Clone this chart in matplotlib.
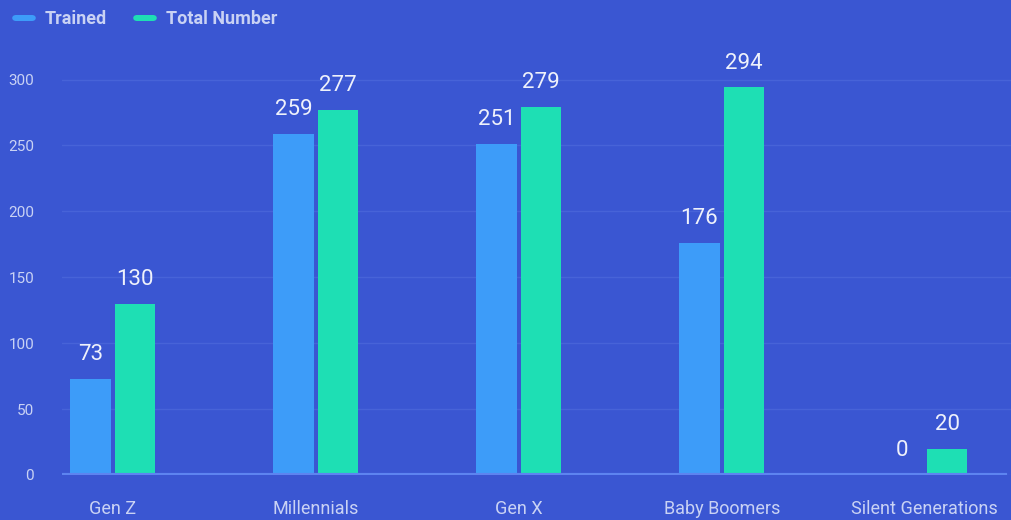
import matplotlib.pyplot as plt
import matplotlib as mpl
from matplotlib.patches import FancyBboxPatch
import numpy as np

mpl.rcParams['font.family'] = ['Roboto', 'DejaVu Sans']

# generations and counts
generations = ["Gen Z", "Millennials", "Gen X", "Baby Boomers", "Silent Generations"]
trained = [73, 259, 251, 176, 0]
total_number = [130, 277, 279, 294, 20]

bg = "#3a56d2"
blue = "#3d9cf9"
green = "#1edfb4"
label_col = "#c9d2f4"

fig = plt.figure(figsize=(10.12, 5.2), dpi=100, facecolor=bg)
ax = fig.add_axes([62 / 1012, 45 / 520, 950 / 1012, 435 / 520])
ax.set_facecolor(bg)

x = np.arange(len(generations))
w = 0.2
off = 0.11
b1 = ax.bar(x - off, trained, w, color=blue, zorder=3)
b2 = ax.bar(x + off, total_number, w, color=green, zorder=3)

for bars in (b1, b2):
    for rect in bars:
        h = rect.get_height()
        ax.annotate(f"{h:.0f}", (rect.get_x() + rect.get_width() / 2, h),
                    xytext=(0, 10), textcoords="offset points",
                    ha="center", va="bottom", color="#eef1fb", fontsize=16)

ax.set_xlim(-0.25, 4.43)
ax.set_ylim(0, 330)
ax.set_yticks(range(0, 301, 50))
ax.set_xticks(x)
ax.set_xticklabels(generations)
ax.tick_params(axis="y", length=0, pad=20, labelsize=11, labelcolor=label_col)
ax.tick_params(axis="x", length=0, pad=18, labelsize=13, labelcolor=label_col)
for lbl in ax.get_yticklabels():
    lbl.set_horizontalalignment("right")

ax.grid(axis="y", color="#4763d8", linewidth=1, zorder=0)
for s in ax.spines.values():
    s.set_visible(False)
ax.axhline(0, xmin=0, xmax=943 / 950, color="#5d84f0", linewidth=3, zorder=4)

# legend drawn by hand with rounded swatches
for px, col, txt in [(12, blue, "Trained"), (133, green, "Total Number")]:
    fig.patches.append(FancyBboxPatch((px / 1012, (520 - 21) / 520), 24 / 1012, 6 / 520,
                                      boxstyle="round,pad=0,rounding_size=0.004",
                                      transform=fig.transFigure, facecolor=col,
                                      edgecolor="none", mutation_aspect=1012 / 520))
    fig.text((px + 33) / 1012, (520 - 19) / 520, txt, color=label_col,
             fontsize=13, fontweight="bold", va="center", ha="left")

plt.savefig("out.png", dpi=100, facecolor=bg)
